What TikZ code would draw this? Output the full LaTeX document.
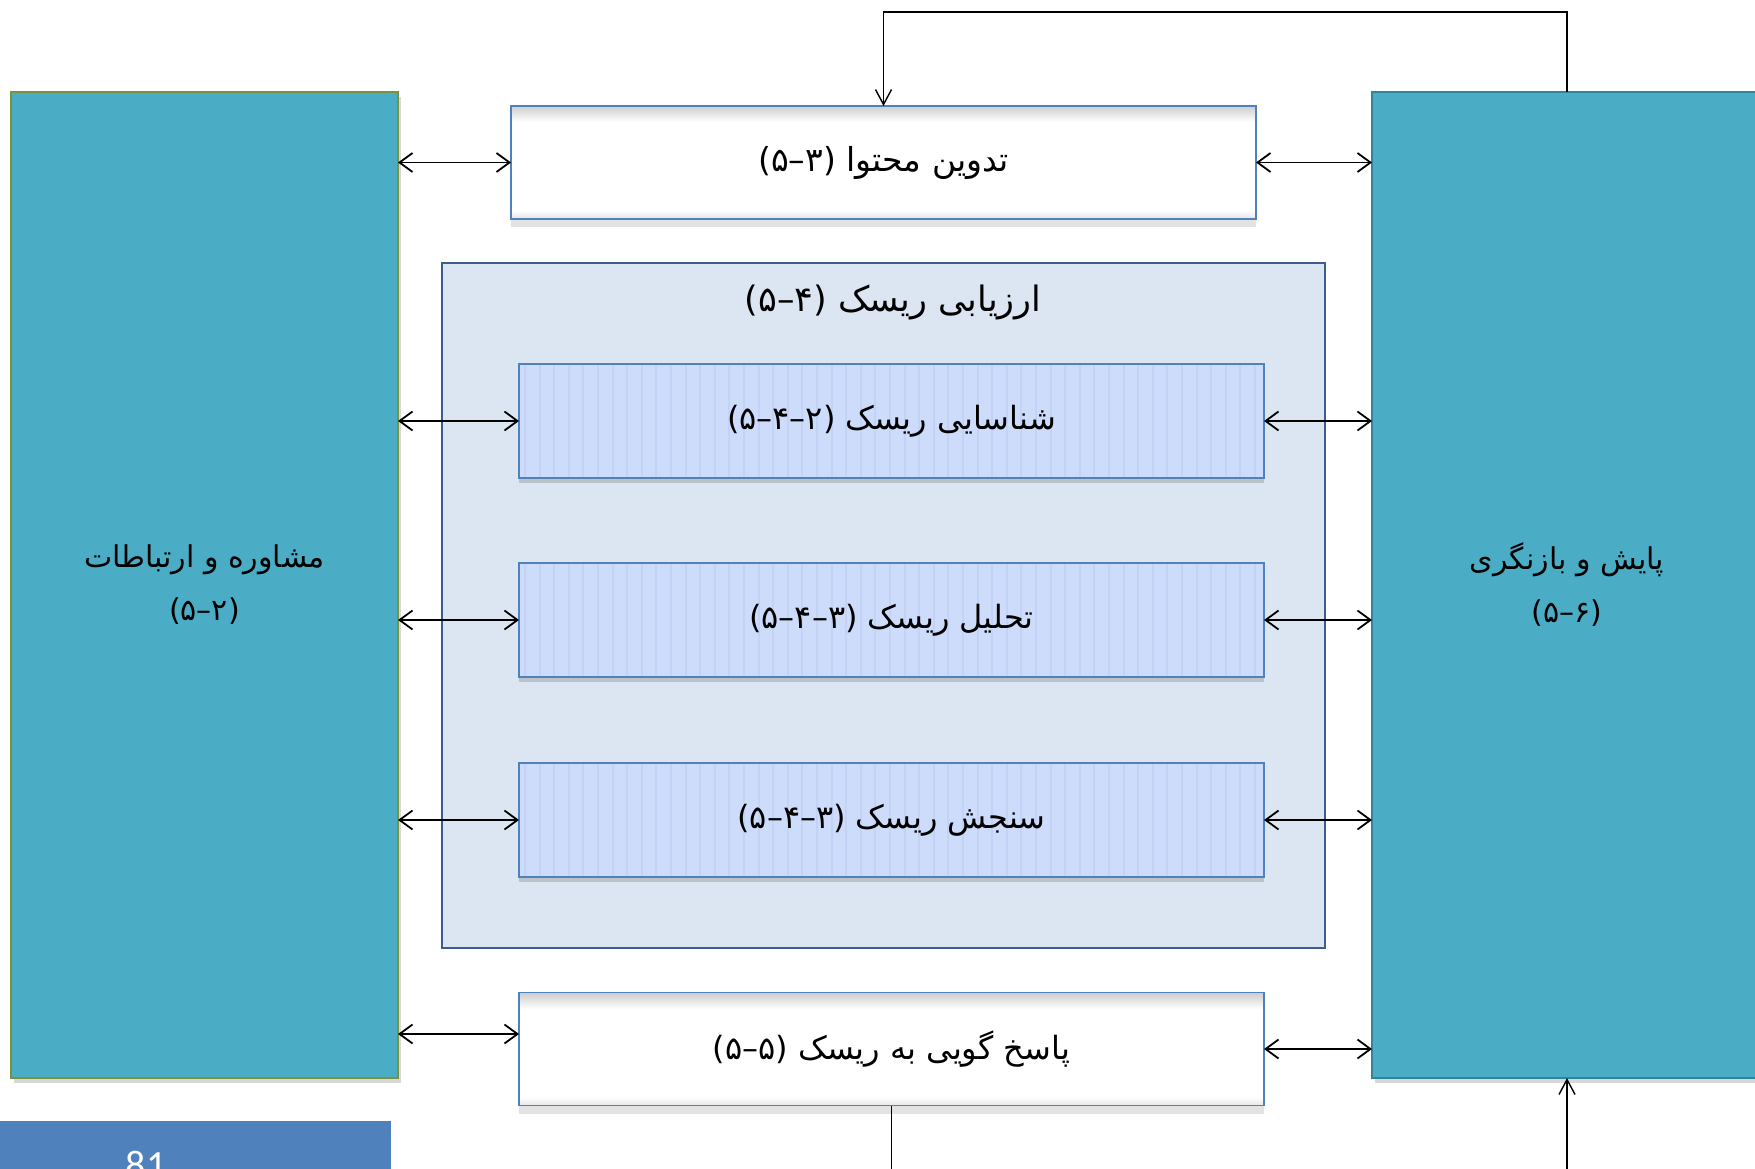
\documentclass[tikz,border=0pt]{standalone}
\usepackage{fontspec}
\setmainfont{DejaVu Sans}
\newfontfamily\arabicfont[Script=Arabic]{DejaVu Sans}
\newfontfamily\numfont{Carlito}
\TeXXeTstate=1
\usetikzlibrary{arrows.meta,shadows,calc}
\definecolor{teal1}{RGB}{75,172,198}
\definecolor{olive1}{RGB}{119,147,60}
\definecolor{tealdark}{RGB}{49,132,155}
\definecolor{blueborder}{RGB}{79,129,189}
\definecolor{bluedark}{RGB}{59,94,140}
\definecolor{outerfill}{RGB}{220,230,242}
\definecolor{innerfill}{RGB}{204,220,250}
\definecolor{stripecol}{RGB}{194,211,245}
\definecolor{pagebox}{RGB}{79,129,189}
\begin{document}
\begin{tikzpicture}[x=1pt,y=-1pt,
  every node/.style={inner sep=0pt, outer sep=0pt},
  txt/.style={font=\arabicfont\fontsize{32}{53}\selectfont, align=center},
  sidebox/.style={rectangle, fill=teal1, line width=1.5pt, minimum width=387pt, minimum height=986pt,
    font=\arabicfont\fontsize{30}{53}\selectfont, align=center,
    drop shadow={shadow xshift=3pt, shadow yshift=-5pt, opacity=0.3}},
  whitebox/.style={rectangle, fill=white, draw=blueborder, line width=1.5pt, minimum width=745pt, minimum height=113pt, txt,
    drop shadow={shadow xshift=0pt, shadow yshift=-8pt, opacity=0.22},
    path picture={\foreach \k in {0,...,15} \fill[black, opacity={0.012*(16-\k)}] ([yshift={-\k pt}]path picture bounding box.north west) rectangle ([yshift={-\k pt-1pt}]path picture bounding box.north east);
                  \foreach \k in {0,...,7} \fill[black, opacity={0.012*(8-\k)}] ([yshift={\k pt}]path picture bounding box.south west) rectangle ([yshift={\k pt+1pt}]path picture bounding box.south east);}},
  outerbox/.style={rectangle, fill=outerfill, draw=bluedark, line width=1.8pt, minimum width=883pt, minimum height=685pt},
  innerbox/.style={rectangle, fill=innerfill, draw=blueborder, line width=1.8pt, minimum width=745pt, minimum height=114pt, txt,
    drop shadow={shadow xshift=0pt, shadow yshift=-5pt, opacity=0.35},
    path picture={\foreach \i in {6,20.6,...,760} \draw[stripecol, line width=2pt] ([xshift=\i pt]path picture bounding box.north west) -- ([xshift=\i pt]path picture bounding box.south west);}},
  dbl/.style={{Straight Barb[length=13pt, width=19pt]}-{Straight Barb[length=13pt, width=19pt]}, line width=1.8pt},
  fb/.style={-{Straight Barb[length=15pt, width=16pt]}, line width=1.4pt}
]
\useasboundingbox (0,0) rectangle (1755,1169);
\fill[white] (0,0) rectangle (1755,1169);

% side boxes
\node[sidebox, draw=olive1] (L) at (204.5,585) {\beginR مشاوره و ارتباطات\endR\\\beginL(۲–۵)\endL};
\node[sidebox, draw=tealdark, minimum width=390pt] (R) at (1567,585) {\beginR پایش و بازنگری\endR\\\beginL(۶–۵)\endL};

% outer assessment box
\node[outerbox] (O) at (883.5,605.5) {};
\node[txt, font=\arabicfont\fontsize{35}{53}\selectfont] (Ot) at (893,302) {\beginR ارزیابی ریسک \beginL(۴–۵)\endL\endR};

% top and bottom boxes
\node[whitebox, font=\arabicfont\fontsize{33}{53}\selectfont] (T) at (883.5,162.5) {\beginR تدوین محتوا \beginL(۳–۵)\endL\endR};
\node[whitebox] (B) at (891.5,1049) {\beginR پاسخ گویی به ریسک \beginL(۵–۵)\endL\endR};

% inner boxes
\node[innerbox] (I1) at (891.5,421) {\beginR شناسایی ریسک \beginL(۲–۴–۵)\endL\endR};
\node[innerbox] (I2) at (891.5,620) {\beginR تحلیل ریسک \beginL(۳–۴–۵)\endL\endR};
\node[innerbox] (I3) at (891.5,820) {\beginR سنجش ریسک \beginL(۳–۴–۵)\endL\endR};

% page number box
\node[fill=pagebox, minimum width=391pt, minimum height=70pt, anchor=north west] (P) at (0,1121) {};
\node[font=\numfont\fontsize{40}{40}\selectfont, text=white, anchor=base] (pn) at (146,1178) {81};

% double arrows left
\draw[dbl] (L.east |- T.west) -- (T.west);
\draw[dbl] (L.east |- I1.west) -- (I1.west);
\draw[dbl] (L.east |- I2.west) -- (I2.west);
\draw[dbl] (L.east |- I3.west) -- (I3.west);
\draw[dbl] ([yshift=15pt]B.west -| L.east) -- ([yshift=15pt]B.west);
% double arrows right
\draw[dbl] (T.east) -- (T.east -| R.west);
\draw[dbl] (I1.east) -- (I1.east -| R.west);
\draw[dbl] (I2.east) -- (I2.east -| R.west);
\draw[dbl] (I3.east) -- (I3.east -| R.west);
\draw[dbl] (B.east) -- (B.east -| R.west);

% feedback lines
\coordinate (topY) at (0,12);
\coordinate (botY) at (0,1200);
\draw[fb] (R.north) |- (T.north |- topY) -- (T.north);
\draw[fb] (B.south) -- (B.south |- botY) -| (R.south);
\end{tikzpicture}
\end{document}
